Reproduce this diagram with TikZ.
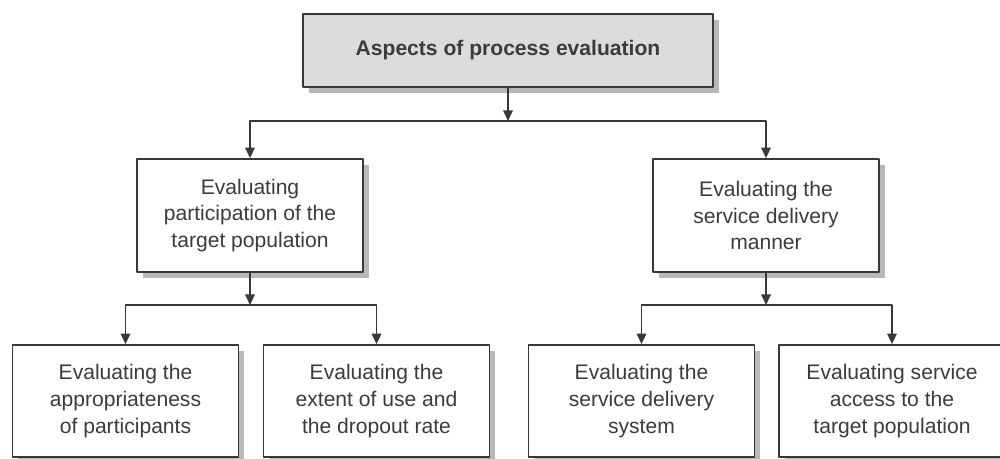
\documentclass[tikz,border=0pt]{standalone}
\usepackage{fontspec}
\setmainfont{Liberation Sans}
\usetikzlibrary{arrows.meta,shadows}
\definecolor{APEInk}{HTML}{383838}
\definecolor{APEText}{HTML}{3C3C3C}
\definecolor{APEGrey}{HTML}{DCDCDC}
\definecolor{APEShade}{HTML}{B8B8B8}

\begin{document}
\begin{tikzpicture}[x=0.02cm,y=-0.02cm,line join=round,
  box/.style={draw=APEInk,line width=1pt,fill=white,text=APEText,align=center,
    font=\fontsize{12}{15.3}\selectfont,inner sep=0pt,
    minimum width=4.52cm,minimum height=2.26cm,
    drop shadow={shadow xshift=3.4pt,shadow yshift=-3.4pt,fill=APEShade,opacity=1}},
  headbox/.style={box,fill=APEGrey,font=\bfseries\fontsize{12}{15}\selectfont,
    minimum width=8.2cm,minimum height=1.46cm},
  link/.style={draw=APEInk,line width=1pt,-{Triangle[length=6pt,width=5.4pt]}}]
  \useasboundingbox (0,0) rectangle (1000,459);
  % top level
  \node[headbox] (aspects) at (508,50.5) {Aspects of process evaluation};
  \coordinate (topfork) at (508,121);
  % second level
  \node[box] (partic) at (250,215.5) {Evaluating\\participation of the\\target population};
  \node[box] (manner) at (766,215.5) {Evaluating the\\service delivery\\manner};
  \coordinate (leftfork) at (250,305);
  \coordinate (rightfork) at (766,305);
  % third level
  \node[box,minimum height=2.24cm] (approp) at (125.5,401) {Evaluating the\\appropriateness\\of participants};
  \node[box,minimum height=2.24cm] (extent) at (376.5,401) {Evaluating the\\extent of use and\\the dropout rate};
  \node[box,minimum height=2.24cm] (system) at (641.5,401) {Evaluating the\\service delivery\\system};
  \node[box,minimum height=2.24cm] (access) at (892,401) {Evaluating service\\access to the\\target population};
  % connectors
  \draw[link] (aspects.south) -- (topfork);
  \draw[link] (topfork) -| (partic.north);
  \draw[link] (topfork) -| (manner.north);
  \draw[link] (partic.south) -- (leftfork);
  \draw[link] (leftfork) -| (approp.north);
  \draw[link] (leftfork) -| (extent.north);
  \draw[link] (manner.south) -- (rightfork);
  \draw[link] (rightfork) -| (system.north);
  \draw[link] (rightfork) -| (access.north);
\end{tikzpicture}
\end{document}
